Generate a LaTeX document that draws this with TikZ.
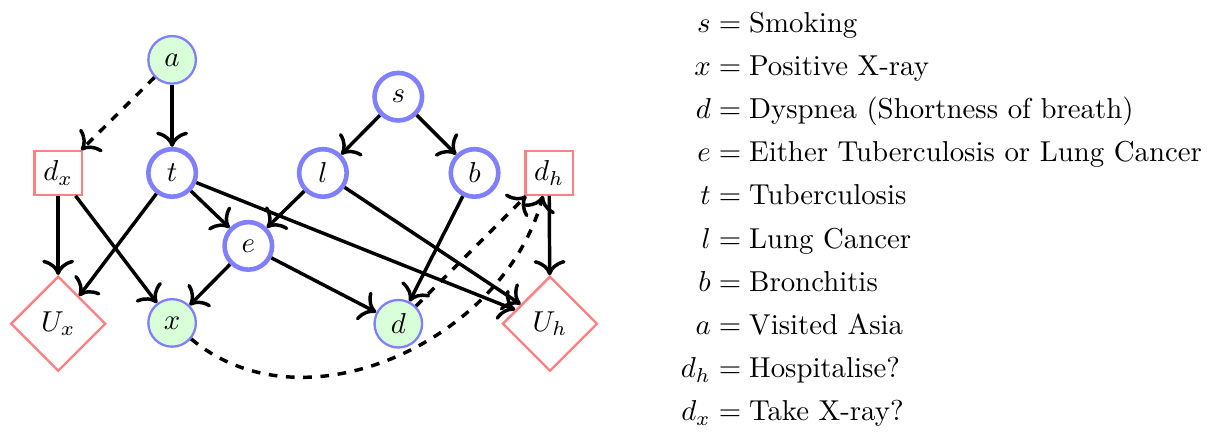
\documentclass[tikz,border=0pt]{standalone}
\usepackage{amsmath,amssymb}
\usetikzlibrary{arrows.meta,shapes.geometric}

\begin{document}
\begin{tikzpicture}[x=1cm,y=1cm]
\tikzset{
  chancenode/.style={circle,draw=blue!50,ultra thick,fill=white,minimum size=5.8mm,inner sep=1pt},
  observednode/.style={circle,draw=blue!50,thick,fill=green!15,minimum size=5.8mm,inner sep=1pt},
  decisionnode/.style={rectangle,draw=red!50,thick,minimum width=5.8mm,minimum height=5.3mm,inner sep=1pt},
  utilitynode/.style={diamond,draw=red!50,thick,minimum size=11.6mm,inner sep=0pt},
  directed/.style={-{To[scale=1.25]},very thick},
  informational/.style={-{To[scale=1.25]},very thick,dashed}
}
\useasboundingbox (0,0) rectangle (14.91,5.33);
\node[observednode] (n_a) at (2.10,4.60) {$a$};
\node[chancenode] (n_t) at (2.10,3.22) {$t$};
\node[chancenode] (n_s) at (4.86,4.15) {$s$};
\node[chancenode] (n_l) at (3.94,3.22) {$l$};
\node[chancenode] (n_b) at (5.79,3.22) {$b$};
\node[chancenode] (n_e) at (3.03,2.33) {$e$};
\node[observednode] (n_x) at (2.10,1.39) {$x$};
\node[observednode] (n_d) at (4.86,1.38) {$d$};
\node[decisionnode] (n_dx) at (0.71,3.22) {$d_x$};
\node[decisionnode] (n_dh) at (6.70,3.22) {$d_h$};
\node[utilitynode] (n_Ux) at (0.71,1.38) {$U_x$};
\node[utilitynode] (n_Uh) at (6.71,1.38) {$U_h$};
\node[anchor=west,inner sep=0pt] (n_legend) at (8.30,2.65) {$\begin{aligned}
  s &= \text{Smoking}\\
  x &= \text{Positive X-ray}\\
  d &= \text{Dyspnea (Shortness of breath)}\\
  e &= \text{Either Tuberculosis or Lung Cancer}\\
  t &= \text{Tuberculosis}\\
  l &= \text{Lung Cancer}\\
  b &= \text{Bronchitis}\\
  a &= \text{Visited Asia}\\
  d_h &= \text{Hospitalise?}\\
  d_x &= \text{Take X-ray?}
\end{aligned}$};
\draw[directed] (n_a) -- (n_t);
\draw[informational] (n_a) -- (n_dx);
\draw[directed] (n_s) -- (n_l);
\draw[directed] (n_s) -- (n_b);
\draw[directed] (n_t) -- (n_e);
\draw[directed] (n_l) -- (n_e);
\draw[directed] (n_e) -- (n_x);
\draw[directed] (n_e) -- (n_d);
\draw[directed] (n_b) -- (n_d);
\draw[directed] (n_dx) -- (n_Ux);
\draw[directed] (n_dx) -- (n_x);
\draw[directed] (n_t) -- (n_Ux);
\draw[directed] (n_t) -- (n_Uh);
\draw[directed] (n_l) -- (n_Uh);
\draw[directed] (n_dh) -- (n_Uh);
\draw[informational] (n_d) -- (n_dh);
\draw[informational] (n_x) to[out=-40,in=-105] (n_dh);
\end{tikzpicture}
\end{document}
